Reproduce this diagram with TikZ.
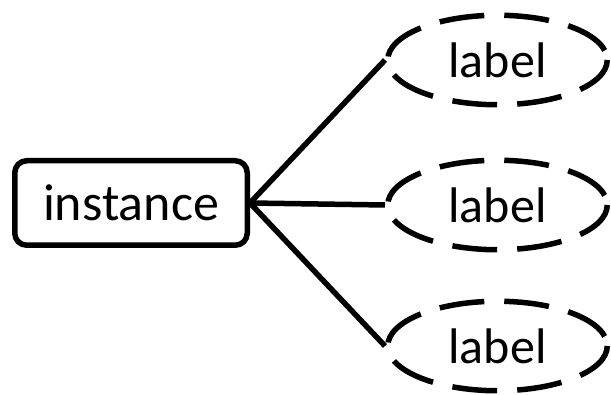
\documentclass[tikz,border=0pt]{standalone}
\usepackage{fontspec}
\setmainfont{Carlito}
\usetikzlibrary{shapes.geometric}
\begin{document}
\begin{tikzpicture}[x=1pt,y=1pt,
  inst/.style={draw, line width=5.5pt, rounded corners=12pt, minimum width=232.5pt, minimum height=84.5pt, inner sep=0pt, font=\fontsize{52}{60}\selectfont},
  lab/.style={draw, ellipse, line width=5.5pt, dash pattern=on 45pt off 20pt, dash phase=55pt, minimum width=219.5pt, minimum height=89.5pt, inner sep=0pt, font=\fontsize{50}{60}\selectfont},
  conn/.style={line width=5.5pt}]
\useasboundingbox (0,0) rectangle (611,395);
\node[inst] (inst) at (131,192) {instance};
\node[lab] (l1) at (497.5,335) {label};
\node[lab] (l2) at (497.5,190) {label};
\node[lab] (l3) at (497.5,49) {label};
\draw[conn] (inst.east) -- (l1.west);
\draw[conn] (inst.east) -- (l2.west);
\draw[conn] (inst.east) -- (l3.west);
\end{tikzpicture}
\end{document}
